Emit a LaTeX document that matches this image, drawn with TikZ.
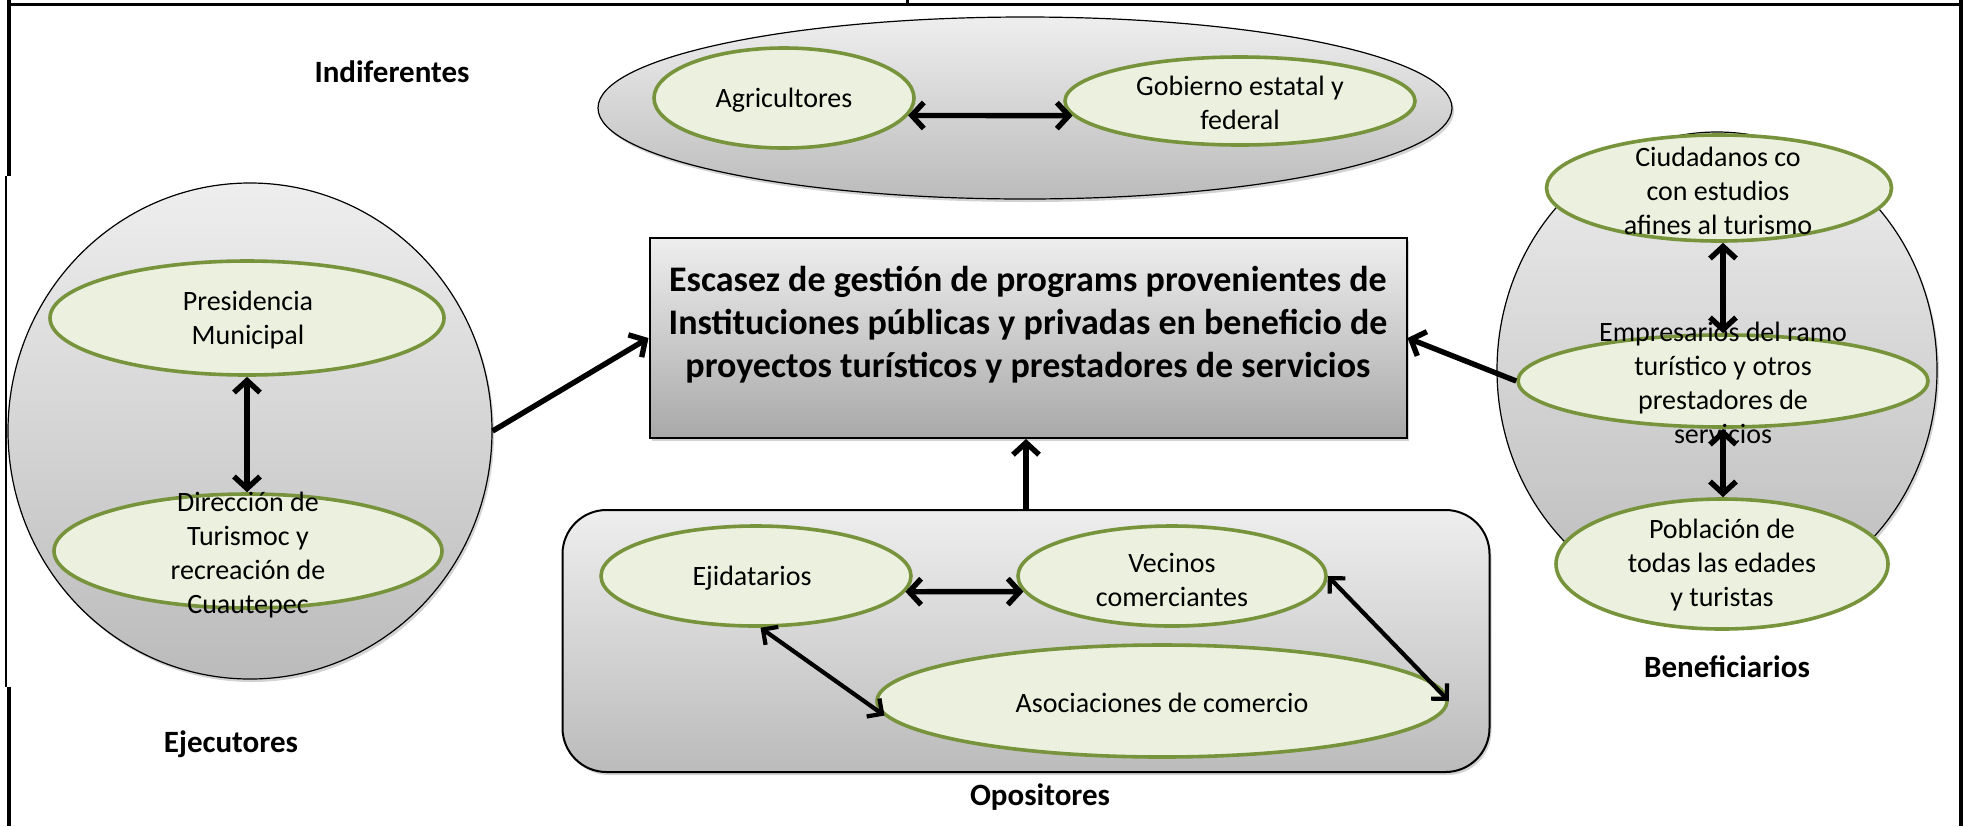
\documentclass[tikz,border=0pt]{standalone}
\usepackage{fontspec}
\setmainfont{Carlito}
\usetikzlibrary{shapes.geometric,arrows.meta,shadows}
\definecolor{gborder}{HTML}{77933C}
\definecolor{gfill}{HTML}{EBF1DE}
\definecolor{gtop}{HTML}{EEEEEE}
\definecolor{gbot}{HTML}{BBBBBB}
\tikzset{
  frameline/.style={line width=1.5pt, black},
  shad/.style={drop shadow={shadow xshift=1pt, shadow yshift=-1.5pt, opacity=.35}},
  greyell/.style={ellipse, draw=black, line width=0.6pt, top color=gtop, bottom color=gbot, inner sep=0pt, shad},
  greenell/.style={ellipse, draw=gborder, line width=1.8pt, fill=gfill, inner sep=0pt},
  txt/.style={font=\fontsize{14}{17}\selectfont, align=center, inner sep=0pt},
  lbl/.style={font=\fontsize{15.5}{18}\selectfont\bfseries, inner sep=0pt},
  ttl/.style={font=\fontsize{18}{21.5}\selectfont\bfseries, align=center, inner sep=0pt},
  probbox/.style={rectangle, draw=black, line width=1pt, top color=gtop, bottom color=gbot!90!black, inner sep=0pt, shad},
  oppbox/.style={rectangle, rounded corners=22pt, draw=black, line width=1pt, top color=gtop, bottom color=gbot, inner sep=0pt, shad},
  tipb/.tip={Straight Barb[length=6pt,width=13pt]},
  dbl/.style={{tipb}-{tipb}, line width=2.7pt},
  dblthin/.style={{Straight Barb[length=5.5pt,width=11pt]}-{Straight Barb[length=5.5pt,width=11pt]}, line width=2.1pt},
  sgl/.style={-{tipb}, line width=2.7pt},
}
\begin{document}
\begin{tikzpicture}[x=0.5pt,y=-0.5pt]
\useasboundingbox (0,0) rectangle (1965,826);
% page frame
\draw[frameline] (8,4) -- (1961,4);
\draw[frameline] (907,0) -- (907,4);
\draw[line width=1.6pt] (9,0) -- (9,176);
\draw[line width=1.1pt] (6,176) -- (6,687);
\draw[line width=1.6pt] (9,687) -- (9,826);
\draw[line width=1.6pt] (1961,0) -- (1961,826);

% containers
\node[greyell, minimum width=427pt, minimum height=91pt] (ind) at (1025,108) {};
\node[greyell, minimum width=242pt, minimum height=248pt] (ejec) at (250,431) {};
\node[greyell, minimum width=220pt, minimum height=238pt] (ben) at (1717,370) {};
\node[oppbox, minimum width=463.5pt, minimum height=131pt] (opos) at (1026,641) {};
\node[probbox, minimum width=378.5pt, minimum height=100pt] (prob) at (1028,338) {};
\node[ttl] (probt) at (1028,325) {Escasez de gestión de programs provenientes de\\Instituciones públicas y privadas en beneficio de\\proyectos turísticos y prestadores de servicios};

% green ellipses
\node[greenell, minimum width=130pt, minimum height=50pt] (agr) at (784,98) {};
\node[greenell, minimum width=175pt, minimum height=44pt] (gob) at (1240,101) {};
\node[greenell, minimum width=197pt, minimum height=57pt] (pres) at (247,318) {};
\node[greenell, minimum width=194pt, minimum height=57pt] (dir) at (248,551) {};
\node[greenell, minimum width=155pt, minimum height=50pt] (ejid) at (756,576) {};
\node[greenell, minimum width=154pt, minimum height=50pt] (vec) at (1172,576) {};
\node[greenell, minimum width=285pt, minimum height=56pt] (asoc) at (1162,701) {};
\node[greenell, minimum width=172.5pt, minimum height=53pt] (ciud) at (1719,188) {};
\node[greenell, minimum width=205pt, minimum height=46pt] (emp) at (1723,381) {};
\node[greenell, minimum width=166pt, minimum height=65pt] (pob) at (1722,564) {};

% texts
\node[txt] (agrt) at (784,100) {Agricultores};
\node[txt] (gobt) at (1240,103) {Gobierno estatal y\\federal};
\node[txt] (prest) at (248,320) {Presidencia\\Municipal};
\node[txt] (dirt) at (248,555) {Dirección de\\Turismoc y\\recreación de\\Cuautepec};
\node[txt] (ejidt) at (752,578) {Ejidatarios};
\node[txt] (vect) at (1172,580) {Vecinos\\comerciantes};
\node[txt] (asoct) at (1162,703) {Asociaciones de comercio};
\node[txt] (ciudt) at (1718,191) {Ciudadanos co\\con estudios\\afines al turismo};
\node[txt] (empt) at (1723,383) {Empresarios del ramo\\turístico y otros\\prestadores de\\servicios};
\node[txt] (pobt) at (1722,565) {Población de\\todas las edades\\y turistas};

% group labels
\node[lbl] (lind) at (392,72) {Indiferentes};
\node[lbl] (lejec) at (231,744) {Ejecutores};
\node[lbl] (lopos) at (1040,797) {Opositores};
\node[lbl] (lben) at (1727,667) {Beneficiarios};

% connectors
\draw[dbl] (agr.-8) -- (gob.185);
\draw[dbl] (pres.south) -- (pres.south |- dir.north);
\draw[dbl] (emp.north |- ciud.south) -- (emp.north);
\draw[dbl] (emp.south) -- (emp.south |- pob.north);
\draw[dbl] (ejid.-6) -- (vec.186);
\draw[dblthin] (ejid.-85) -- (asoc.183);
\draw[dblthin] (vec.east) -- (asoc.east);
\draw[sgl] (ejec.east) -- (prob.west);
\draw[sgl] (emp.west) -- (prob.east);
\draw[sgl] (opos.north) -- (opos.north |- prob.south);
\end{tikzpicture}
\end{document}
